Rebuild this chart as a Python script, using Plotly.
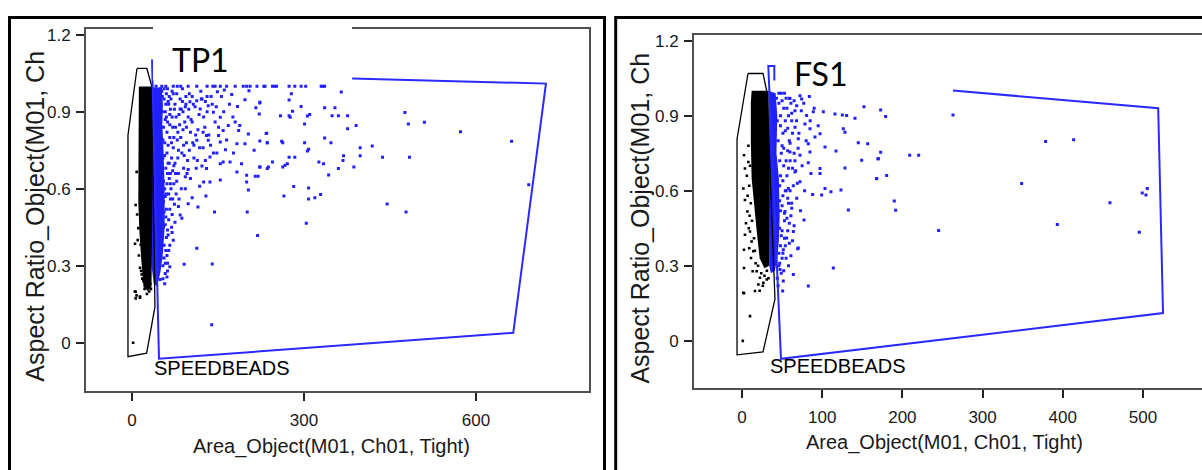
import plotly.graph_objects as go

# ================= TP1 panel (left) =================
tp1_x_ticks = [0, 300, 600]
y_ticks = [0, 0.3, 0.6, 0.9, 1.2]
y_tick_text = ["0", "0.3", "0.6", "0.9", "1.2"]
fs1_x_ticks = [0, 100, 200, 300, 400, 500]

# dense cores (outline of the saturated clouds)
tp1_black_core_x = [12, 35, 36, 35.5, 34, 28, 20, 16, 13, 11, 11, 11.5, 12]
tp1_black_core_y = [0.999, 0.999, 0.6, 0.33, 0.22, 0.2, 0.22, 0.33, 0.43, 0.55, 0.8, 0.95, 0.999]
tp1_blue_core_x = [34, 52, 54, 53, 55, 57, 57, 54, 50, 44, 38, 34, 34]
tp1_blue_core_y = [0.995, 0.995, 0.93, 0.85, 0.75, 0.6, 0.45, 0.35, 0.28, 0.22, 0.23, 0.3, 0.995]

# events saturated at aspect ratio 1.0
tp1_row_x = [42, 52, 59, 72, 79, 85, 98, 113, 131, 141, 145, 154, 165, 180, 194, 200, 206,
             218, 230, 232, 245, 249, 252, 274, 284, 295, 303, 330, 333, 336]
tp1_row_y = [1.0, 1.0, 1.0, 1.0, 1.0, 1.0, 1.0, 1.0, 1.0, 1.0, 1.0, 1.0, 1.0, 1.0, 1.0, 1.0, 1.0,
             1.0, 1.0, 1.0, 1.0, 1.0, 1.0, 1.0, 1.0, 1.0, 1.0, 1.0, 1.0, 1.0]

tp1_blue_x = [365, 278, 274, 223, 295, 336, 354, 280, 259, 274, 276, 306, 310, 349, 360, 376, 476,
              301, 482, 510, 376, 391, 573, 234, 223, 236, 261, 263, 301, 336, 347, 662, 398, 419,
              308, 306, 369, 398, 437, 484, 274, 284, 245, 223, 236, 263, 267, 271, 326, 334, 368,
              360, 387, 343, 692, 282, 308, 265, 308, 319, 329, 445, 478, 304,
              149, 161, 174, 204, 131, 113, 122, 101, 94, 133, 184, 216, 223, 197, 222, 84, 119,
              142, 154, 180, 188, 168, 203, 235, 186, 159, 151, 130, 113, 133, 154, 183, 197, 236,
              163, 148, 177, 213, 136, 159, 154, 171, 191, 223, 238, 122, 130, 98, 183, 200, 215,
              220, 125, 136, 154, 93, 200, 203, 105, 129, 98, 115, 144, 201, 81, 84, 87, 219, 113,
              91, 140, 139, 66, 61, 49,
              48, 50, 52, 47, 53, 56, 49, 55, 58, 60, 51, 57, 62, 64, 48, 54, 59, 66, 68, 70, 52,
              57, 61, 72, 74, 55, 60, 65, 76, 78, 58, 63, 67, 80, 82, 56, 61, 70, 85, 88, 54, 58,
              66, 73, 90, 92, 62, 69, 77, 95, 75, 86, 71, 79, 84, 93, 63, 67, 81, 87, 98, 102, 105,
              108, 64, 72, 60,
              100, 110, 120, 105, 115, 125, 95, 108, 118, 128, 90, 97, 102, 112, 124, 88, 76, 82,
              93, 70, 66, 73, 89, 99, 106, 140, 145, 137, 128, 118,
              50, 53, 56, 59, 62, 65, 67, 58, 61, 54, 57, 63, 52, 55, 58, 61, 64, 56, 59, 62, 53,
              56, 59, 54, 51, 69, 71, 74, 68, 66, 70, 75, 78, 81, 83, 86, 89, 91, 94, 96, 100, 103,
              107, 111, 114, 117, 121, 124, 127, 131, 134, 138, 142, 147, 151, 156, 160, 165, 170,
              176, 60, 63, 66, 69, 72, 75, 77, 80, 73, 65, 62, 67, 71, 60, 64, 58, 57, 62, 55, 53]
tp1_blue_y = [0.977, 0.970, 0.946, 0.934, 0.921, 0.916, 0.916, 0.902, 0.885, 0.885, 0.879, 0.884,
              0.890, 0.885, 0.885, 0.885, 0.897, 0.853, 0.853, 0.859, 0.834, 0.847, 0.822, 0.816,
              0.786, 0.780, 0.785, 0.780, 0.780, 0.798, 0.780, 0.785, 0.760, 0.767, 0.754, 0.747,
              0.729, 0.729, 0.723, 0.723, 0.723, 0.723, 0.705, 0.685, 0.679, 0.685, 0.692, 0.698,
              0.705, 0.698, 0.710, 0.679, 0.685, 0.654, 0.616, 0.609, 0.603, 0.572, 0.560, 0.565,
              0.578, 0.541, 0.510, 0.466,
              0.978, 0.985, 0.968, 0.982, 0.960, 0.943, 0.950, 0.939, 0.930, 0.924, 0.921, 0.916,
              0.937, 0.947, 0.892, 0.911, 0.911, 0.898, 0.879, 0.860, 0.847, 0.847, 0.814, 0.817,
              0.827, 0.827, 0.808, 0.808, 0.789, 0.789, 0.782, 0.776, 0.776, 0.780, 0.752, 0.740,
              0.740, 0.750, 0.724, 0.705, 0.698, 0.705, 0.698, 0.685, 0.685, 0.689, 0.679, 0.675,
              0.666, 0.653, 0.649, 0.649, 0.627, 0.627, 0.634, 0.647, 0.627, 0.595, 0.565, 0.572,
              0.542, 0.529, 0.510, 0.510, 0.531, 0.498, 0.485, 0.418, 0.368, 0.306, 0.307, 0.070,
              0.296, 0.256, 0.247,
              0.97, 0.93, 0.98, 0.88, 0.90, 0.95, 0.82, 0.84, 0.90, 0.97, 0.76, 0.78, 0.86, 0.93,
              0.70, 0.72, 0.68, 0.80, 0.95, 0.88, 0.64, 0.60, 0.74, 0.76, 0.91, 0.55, 0.52, 0.64,
              0.84, 0.97, 0.46, 0.42, 0.56, 0.72, 0.89, 0.38, 0.34, 0.50, 0.80, 0.94, 0.30, 0.27,
              0.38, 0.62, 0.68, 0.86, 0.31, 0.45, 0.58, 0.78, 0.70, 0.60, 0.84, 0.79, 0.95, 0.92,
              0.70, 0.66, 0.66, 0.74, 0.88, 0.82, 0.96, 0.77, 0.48, 0.40, 0.58,
              0.97, 0.92, 0.98, 0.86, 0.83, 0.88, 0.84, 0.72, 0.76, 0.94, 0.77, 0.71, 0.64, 0.68,
              0.82, 0.99, 0.66, 0.56, 0.60, 0.98, 0.89, 0.80, 0.90, 0.91, 0.78, 0.93, 0.86, 0.77,
              0.71, 0.61,
              0.99, 0.96, 0.99, 0.93, 0.99, 0.96, 0.91, 0.87, 0.82, 0.79, 0.73, 0.77, 0.67, 0.63,
              0.57, 0.62, 0.58, 0.51, 0.49, 0.44, 0.41, 0.33, 0.36, 0.25, 0.33, 0.72, 0.67, 0.54,
              0.60, 0.52, 0.43, 0.47, 0.63, 0.75, 0.85, 0.91, 0.83, 0.73, 0.96, 0.66, 0.75, 0.87,
              0.93, 0.81, 0.71, 0.89, 0.95, 0.76, 0.84, 0.90, 0.81, 0.96, 0.74, 0.92, 0.84, 0.96,
              0.90, 0.79, 0.93, 0.88, 0.88, 0.94, 0.85, 0.78, 0.97, 0.93, 0.88, 0.82, 0.69, 0.70,
              0.66, 0.62, 0.56, 0.41, 0.36, 0.31, 0.23, 0.28, 0.45, 0.55]

tp1_black_x = [2, 5, 14, 8, 6.4, 5.3, 6.4, 6.4, 14, 14, 16.9, 15.1, 8.2, 11, 22, 26, 30, 32, 18,
               10, 9, 12, 24, 28, 33, 20, 16]
tp1_black_y = [0.0, 0.2, 0.18, 0.185, 0.537, 0.386, 0.199, 0.173, 0.176, 0.292, 0.266, 0.382,
               0.666, 0.447, 0.21, 0.19, 0.2, 0.23, 0.25, 0.4, 0.5, 0.34, 0.22, 0.23, 0.21, 0.24,
               0.28]

tp1_gate_black_x = [8.7, 26, 35, 40, 25.6, -7, -7, 8.7]
tp1_gate_black_y = [1.069, 1.069, 0.995, 0.14, -0.04, -0.054, 0.809, 1.069]
tp1_gate_blue_x = [384, 722, 665, 47.1, 35, 38]
tp1_gate_blue_y = [1.03, 1.01, 0.039, -0.062, 1.10, 1.10]

# ================= FS1 panel (right) =================
fs1_black_core_x = [12, 33, 34, 34.5, 34, 28, 22, 18, 15, 12, 11, 11, 12]
fs1_black_core_y = [1.0, 1.0, 0.7, 0.4, 0.3, 0.29, 0.33, 0.45, 0.55, 0.65, 0.8, 0.95, 1.0]
fs1_blue_core_x = [33, 42, 44, 43, 46, 47, 46, 44, 41, 36, 34, 33]
fs1_blue_core_y = [1.0, 0.99, 0.9, 0.75, 0.65, 0.5, 0.4, 0.33, 0.28, 0.27, 0.3, 1.0]

fs1_blue_x = [72.3, 84, 59.8, 74.4, 152.1, 88.9, 101.4, 115.9, 125.1, 130.5, 140.9, 126.3, 128.4,
              84.8, 97.3, 91, 145, 156.7, 82.7, 84.8, 103.5, 117.2, 149.2, 170, 82.7, 97.3, 128.4,
              86, 97.3, 167.9, 103.5, 123.4, 110.9, 99.3, 88.1, 132.6, 77.3, 69.4, 113.9, 82.7,
              50.7, 64, 51.5, 47.4,
              68.2, 80.6, 66.1, 78.5, 70.2, 72.3, 59.8, 66.1, 72.3, 57.8, 61.9, 68.2, 53.6, 59, 64,
              55.7, 51.5, 70.2,
              172.9, 179.1, 263.1, 172.9, 169.6, 209.1, 220.3, 167.9, 180.4, 348.7, 189.9, 191.6,
              245.2, 378.6, 413.5, 458.8, 499.1, 505.4, 503.7, 393.2, 495.4,
              43, 46, 49, 44, 48, 52, 55, 45, 50, 54, 58, 61, 47, 52, 57, 63, 47, 51, 56, 60, 48,
              53, 58, 64, 49, 54, 50, 46, 62, 66, 59, 65, 67, 55, 61, 57, 63, 46, 44, 52,
              46, 50, 53, 56, 59, 62, 65, 48, 51, 54, 57, 60, 49, 52, 55, 58, 48, 51, 54, 57, 47,
              50, 53, 56, 47, 50, 53, 48, 51, 47, 49, 45, 68, 71, 74, 77, 63, 66, 69, 60, 62, 65,
              59, 55, 58, 61, 70, 75, 80, 85, 90, 95, 78, 73]
fs1_blue_y = [0.98, 0.977, 0.969, 0.967, 0.936, 0.916, 0.916, 0.907, 0.903, 0.901, 0.890, 0.848,
              0.834, 0.848, 0.828, 0.815, 0.792, 0.788, 0.788, 0.755, 0.775, 0.759, 0.722, 0.728,
              0.712, 0.689, 0.691, 0.669, 0.669, 0.649, 0.609, 0.603, 0.596, 0.583, 0.585, 0.523,
              0.483, 0.368, 0.291, 0.219, 0.199, 0.265, 0.239, 0.285,
              0.940, 0.901, 0.854, 0.867, 0.808, 0.742, 0.755, 0.675, 0.636, 0.609, 0.550, 0.570,
              0.517, 0.470, 0.437, 0.411, 0.364, 0.371,
              0.923, 0.897, 0.903, 0.754, 0.728, 0.742, 0.742, 0.648, 0.661, 0.629, 0.559, 0.522,
              0.441, 0.797, 0.804, 0.552, 0.591, 0.609, 0.583, 0.465, 0.434,
              0.97, 0.95, 0.99, 0.88, 0.86, 0.93, 0.97, 0.80, 0.78, 0.84, 0.90, 0.95, 0.72, 0.70,
              0.76, 0.83, 0.62, 0.58, 0.66, 0.72, 0.52, 0.48, 0.55, 0.62, 0.42, 0.38, 0.33, 0.35,
              0.88, 0.92, 0.80, 0.75, 0.68, 0.60, 0.50, 0.44, 0.40, 0.30, 0.25, 0.28,
              0.99, 0.96, 0.99, 0.93, 0.97, 0.91, 0.96, 0.90, 0.83, 0.88, 0.85, 0.79, 0.75, 0.77,
              0.72, 0.69, 0.66, 0.64, 0.60, 0.57, 0.56, 0.54, 0.51, 0.49, 0.45, 0.44, 0.41, 0.38,
              0.35, 0.31, 0.27, 0.22, 0.88, 0.83, 0.92, 0.95, 0.69, 0.72, 0.63, 0.60, 0.53, 0.46,
              0.39, 0.33, 0.30, 0.34, 0.77, 0.70, 0.80, 0.88, 0.93, 0.86, 0.60, 0.52]

fs1_black_x = [2.5, 3.7, 1.7, 3.7, 3.7, 2.5, 2.5, 1.7, 10, 7.9, 6.7, 10, 12, 14.1, 18.3, 22.4, 26.6,
               30.8, 16.2, 20.4, 11.2, 13.3, 1, 2.5, 8, 9, 7, 9.5, 8.5, 6, 10, 12.5, 15, 16, 9, 5, 11,
               24, 28, 31, 33, 20, 17, 26, 22]
fs1_black_y = [0.742, 0.689, 0.609, 0.563, 0.424, 0.364, 0.291, 0.192, 0.099, 0.715, 0.517, 0.437,
               0.397, 0.358, 0.278, 0.252, 0.232, 0.245, 0.199, 0.225, 0.331, 0.278, 0.0, 0.19,
               0.78, 0.62, 0.58, 0.5, 0.45, 0.66, 0.7, 0.48, 0.41, 0.36, 0.37, 0.47, 0.55,
               0.27, 0.26, 0.28, 0.25, 0.3, 0.31, 0.22, 0.2]

fs1_gate_black_x = [7.5, 26.2, 31.2, 41.1, 26.2, -6.2, -6.2, 7.5]
fs1_gate_black_y = [1.069, 1.069, 0.993, 0.167, -0.044, -0.056, 0.807, 1.069]
fs1_gate_blue_x = [263, 519, 525, 48.6, 32.8, 40.3, 40.3]
fs1_gate_blue_y = [1.001, 0.93, 0.111, -0.072, 1.099, 1.099, 1.041]

# ================= styling =================
FONT = "Liberation Sans, Arial, sans-serif"
BLUE = "#2020ff"
GATE_BLUE = "#2a2aff"
W, H = 1202, 470

fig = go.Figure()


def add_panel(xa, ya, blue_core, black_core, blue_pts, black_pts, gate_black, gate_blue, extra=None):
    fig.add_trace(go.Scatter(x=blue_core[0], y=blue_core[1], xaxis=xa, yaxis=ya, mode="lines",
                             fill="toself", fillcolor=BLUE, line=dict(width=0), hoverinfo="skip"))
    pts = [blue_pts] + ([extra] if extra else [])
    for px, py in pts:
        fig.add_trace(go.Scatter(x=px, y=py, xaxis=xa, yaxis=ya, mode="markers",
                                 marker=dict(symbol="square", size=3, color=BLUE, line=dict(width=0))))
    fig.add_trace(go.Scatter(x=black_core[0], y=black_core[1], xaxis=xa, yaxis=ya, mode="lines",
                             fill="toself", fillcolor="black", line=dict(width=0), hoverinfo="skip"))
    fig.add_trace(go.Scatter(x=black_pts[0], y=black_pts[1], xaxis=xa, yaxis=ya, mode="markers",
                             marker=dict(symbol="square", size=2.6, color="black", line=dict(width=0))))
    fig.add_trace(go.Scatter(x=gate_black[0], y=gate_black[1], xaxis=xa, yaxis=ya, mode="lines",
                             line=dict(color="black", width=1.3)))
    fig.add_trace(go.Scatter(x=gate_blue[0], y=gate_blue[1], xaxis=xa, yaxis=ya, mode="lines",
                             line=dict(color=GATE_BLUE, width=2)))


add_panel("x", "y", (tp1_blue_core_x, tp1_blue_core_y), (tp1_black_core_x, tp1_black_core_y),
          (tp1_blue_x, tp1_blue_y), (tp1_black_x, tp1_black_y),
          (tp1_gate_black_x, tp1_gate_black_y), (tp1_gate_blue_x, tp1_gate_blue_y),
          extra=(tp1_row_x, tp1_row_y))
add_panel("x2", "y2", (fs1_blue_core_x, fs1_blue_core_y), (fs1_black_core_x, fs1_black_core_y),
          (fs1_blue_x, fs1_blue_y), (fs1_black_x, fs1_black_y),
          (fs1_gate_black_x, fs1_gate_black_y), (fs1_gate_blue_x, fs1_gate_blue_y))

axis_common = dict(showgrid=False, zeroline=False, showline=True, linecolor="#505050", linewidth=2,
                   ticks="outside", ticklen=8, tickwidth=1.5, tickcolor="#222",
                   tickfont=dict(family=FONT, size=17, color="#1a1a1a"))

fig.update_layout(
    width=W, height=H, margin=dict(l=0, r=0, t=0, b=0),
    paper_bgcolor="white", plot_bgcolor="white", showlegend=False,
    xaxis=dict(domain=[86 / W, 589 / W], range=[-80.2, 797.1], tickvals=tp1_x_ticks,
               anchor="y", mirror=True, ticklabelstandoff=5, **axis_common),
    yaxis=dict(domain=[1 - 390 / H, 1 - 26 / H], range=[-0.1858, 1.2234], tickvals=y_ticks,
               ticktext=y_tick_text, anchor="x", mirror=True, ticklabelstandoff=2, **axis_common),
    xaxis2=dict(domain=[694 / W, 1.0], range=[-59.85, 573.6], tickvals=fs1_x_ticks,
                anchor="y2", mirror=True, ticklabelstandoff=5, **axis_common),
    yaxis2=dict(domain=[1 - 387 / H, 1 - 32 / H], range=[-0.1867, 1.2237], tickvals=y_ticks,
                ticktext=y_tick_text, anchor="x2", mirror=False, ticklabelstandoff=2, **axis_common),
)

shapes = [
    # white label box covering the top of the TP1 plot
    dict(type="rect", xref="paper", yref="paper", x0=153 / W, x1=352 / W, y0=1 - 78 / H, y1=1 - 18 / H,
         fillcolor="white", line=dict(width=0), layer="above"),
    # panel frames
    dict(type="rect", xref="paper", yref="paper", x0=9.5 / W, x1=604.5 / W, y0=-0.1, y1=1 - 14.7 / H,
         line=dict(color="black", width=3), fillcolor="rgba(0,0,0,0)", layer="above"),
    dict(type="rect", xref="paper", yref="paper", x0=615.7 / W, x1=1.1, y0=-0.1, y1=1 - 14.7 / H,
         line=dict(color="black", width=3), fillcolor="rgba(0,0,0,0)", layer="above"),
]
fig.update_layout(shapes=shapes)

xt_font = dict(family=FONT, size=20, color="#1a1a1a")
yt_font = dict(family=FONT, size=25, color="#1a1a1a")
lab_font = dict(family=FONT, size=20, color="black")
big_font = dict(family="Lato, Carlito, Open Sans, sans-serif", size=32, color="black")
ann = [
    dict(text="Area_Object(M01, Ch01, Tight)", xref="paper", yref="paper", x=331 / W, y=1 - 446 / H,
         xanchor="center", yanchor="middle", showarrow=False, font=xt_font),
    dict(text="Area_Object(M01, Ch01, Tight)", xref="paper", yref="paper", x=944 / W, y=1 - 442 / H,
         xanchor="center", yanchor="middle", showarrow=False, font=xt_font),
    dict(text="Aspect Ratio_Object(M01, Ch", xref="paper", yref="paper", x=35 / W, y=1 - 215 / H,
         xanchor="center", yanchor="middle", showarrow=False, textangle=-90, font=yt_font),
    dict(text="Aspect Ratio_Object(M01, Ch", xref="paper", yref="paper", x=640 / W, y=1 - 217 / H,
         xanchor="center", yanchor="middle", showarrow=False, textangle=-90, font=yt_font),
    dict(text="SPEEDBEADS", xref="x", yref="y", x=34.9, y=-0.1, xanchor="left", yanchor="middle",
         showarrow=False, font=lab_font),
    dict(text="SPEEDBEADS", xref="x2", yref="y2", x=32.4, y=-0.099, xanchor="left", yanchor="middle",
         showarrow=False, font=lab_font),
    dict(text="TP1", xref="x", yref="y", x=66.3, y=1.105, xanchor="left", yanchor="middle",
         showarrow=False, font=big_font),
    dict(text="FS1", xref="x2", yref="y2", x=62.3, y=1.067, xanchor="left", yanchor="middle",
         showarrow=False, font=big_font),
]
fig.update_layout(annotations=ann)

fig.write_html("out.html")
